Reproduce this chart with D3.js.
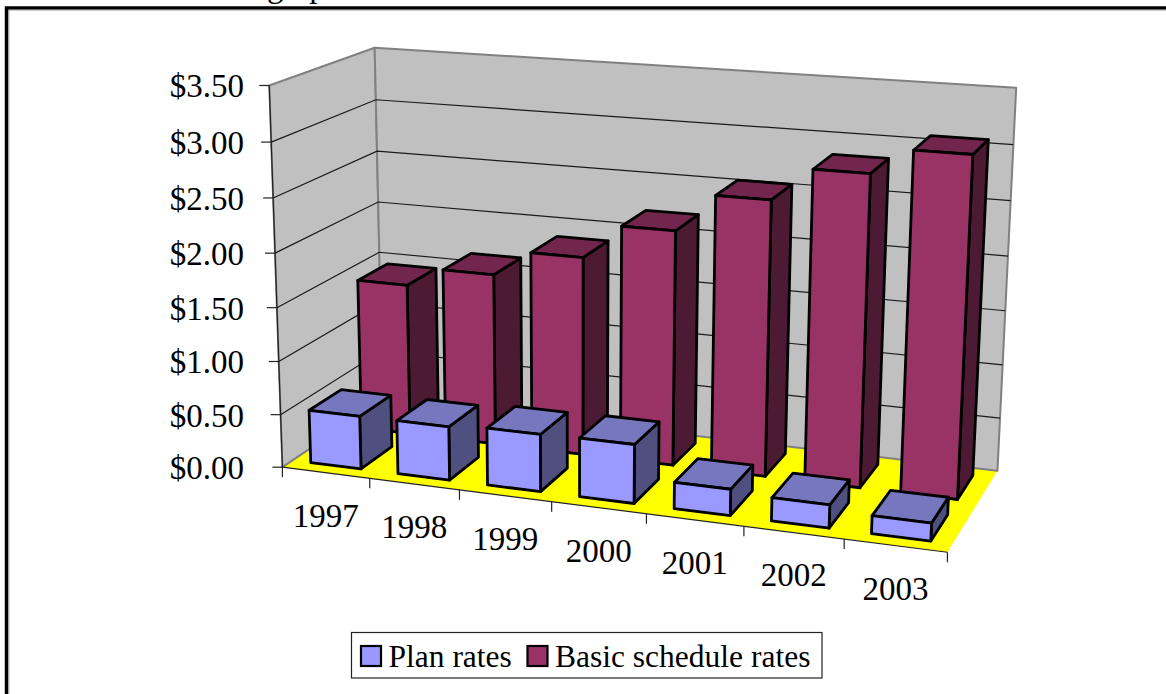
<!DOCTYPE html>
<html>
<head>
<meta charset="utf-8">
<script src="https://cdn.jsdelivr.net/npm/d3@7"></script>
<style>
    html, body { margin: 0; padding: 0; background: #fff; overflow: hidden; }
    text { font-family: "Liberation Serif", serif; fill: #000; }
</style>
</head>
<body>
<script>

var years = ["1997", "1998", "1999", "2000", "2001", "2002", "2003"];
var seriesNames = ["Plan rates", "Basic schedule rates"];
var planRates = [0.50, 0.50, 0.53, 0.54, 0.24, 0.21, 0.16];
var basicRates = [1.45, 1.63, 1.87, 2.19, 2.54, 2.84, 3.07];
var yTicks = [0, 0.5, 1, 1.5, 2, 2.5, 3, 3.5];

var width = 1166, height = 694;

var planColors = { front: "#9999ff", top: "#7777bf", side: "#4f4f80" };
var basicColors = { front: "#993366", top: "#73264d", side: "#4d1a33" };

// where the corners of the chart box land on screen: [x, height, depth, screenX, screenY]
var boxCorners = [
    [0, 0, 0, 284, 467],
    [1, 0, 0, 947, 553],
    [0, 0, 1, 381, 400],
    [1, 0, 1, 998, 470],
    [0, 1, 0, 268, 85],
    [0, 1, 1, 376, 48],
    [1, 1, 1, 1016, 88]
];

var project = buildProjection(boxCorners);

var xScale = d3.scaleBand().domain(years).range([0, 1]).paddingInner(0.42).paddingOuter(0.21);
var zScale = d3.scaleBand().domain(seriesNames).range([0, 1]).paddingInner(0.38).paddingOuter(0.19);
var yScale = d3.scaleLinear().domain([0, 3.5]).range([0, 1]);
var money = d3.format("$.2f");

var line = d3.line();

var svg = d3.select("body").append("svg")
    .attr("width", width)
    .attr("height", height)
    .style("display", "block");

// the cut off line of text above the frame
svg.append("text")
    .attr("x", 267)
    .attr("y", -3.5)
    .attr("font-size", 33)
    .text("graph");

// frame, open to the right and the bottom
svg.append("path")
    .attr("d", "M6.5,694V8H1166")
    .attr("fill", "none")
    .attr("stroke", "#000")
    .attr("stroke-width", 3.5);
svg.append("path")
    .attr("d", "M8.8,694V10H1166")
    .attr("fill", "none")
    .attr("stroke", "#999")
    .attr("stroke-width", 1);

function face(points, fill, stroke, strokeWidth) {
    return svg.append("path")
        .attr("d", line(points.map(function(p) { return project(p[0], p[1], p[2]); })) + "Z")
        .attr("fill", fill)
        .attr("stroke", stroke)
        .attr("stroke-width", strokeWidth)
        .attr("stroke-linejoin", "round");
}

// floor and walls
face([[0, 0, 0], [1, 0, 0], [1, 0, 1], [0, 0, 1]], "#ffff00", "none", 0);
face([[0, 0, 0], [0, 1, 0], [0, 1, 1], [0, 0, 1]], "#c0c0c0", "#808080", 2);
face([[0, 0, 1], [0, 1, 1], [1, 1, 1], [1, 0, 1]], "#c0c0c0", "#808080", 2);

// gridlines run along both walls
yTicks.slice(1, -1).forEach(function(t) {
    var v = yScale(t);
    svg.append("path")
        .attr("d", line([project(0, v, 0), project(0, v, 1), project(1, v, 1)]))
        .attr("fill", "none")
        .attr("stroke", "#1a1a1a")
        .attr("stroke-width", 1.2);
});

// value axis
svg.append("path")
    .attr("d", line([project(0, 1, 0), project(0, 0, 0)]))
    .attr("fill", "none")
    .attr("stroke", "#222")
    .attr("stroke-width", 1.2);

yTicks.forEach(function(t) {
    var p = project(0, yScale(t), 0);
    svg.append("path")
        .attr("d", line([p, [p[0] - 10, p[1]]]))
        .attr("stroke", "#222")
        .attr("stroke-width", 1.2);
    svg.append("text")
        .attr("x", 244)
        .attr("y", p[1] + 1)
        .attr("dy", "0.33em")
        .attr("text-anchor", "end")
        .attr("font-size", 33)
        .text(money(t));
});

// category axis
var frontEdge = [project(0, 0, 0), project(1, 0, 0)];
svg.append("path")
    .attr("d", line(frontEdge))
    .attr("stroke", "#222")
    .attr("stroke-width", 1.2);

d3.range(years.length + 1).forEach(function(i) {
    var p = project(i / years.length, 0, 0);
    svg.append("path")
        .attr("d", line([p, [p[0], p[1] + 10]]))
        .attr("stroke", "#222")
        .attr("stroke-width", 1.2);
});

years.forEach(function(year) {
    var p = project(xScale(year) + xScale.bandwidth() / 2, 0, 0);
    svg.append("text")
        .attr("x", p[0])
        .attr("y", p[1] + 43)
        .attr("dy", "0.33em")
        .attr("text-anchor", "middle")
        .attr("font-size", 33)
        .text(year);
});

// back row first so the front row covers it
drawRow(seriesNames[1], basicRates, basicColors);
drawRow(seriesNames[0], planRates, planColors);

function drawRow(name, values, colors) {
    values.forEach(function(value, i) {
        var u0 = xScale(years[i]),
            u1 = u0 + xScale.bandwidth(),
            w0 = zScale(name),
            w1 = w0 + zScale.bandwidth(),
            v = yScale(value);

        face([[u1, 0, w0], [u1, 0, w1], [u1, v, w1], [u1, v, w0]], colors.side, "#000", 2.8);
        face([[u0, v, w0], [u1, v, w0], [u1, v, w1], [u0, v, w1]], colors.top, "#000", 2.8);
        face([[u0, 0, w0], [u1, 0, w0], [u1, v, w0], [u0, v, w0]], colors.front, "#000", 2.8);
    });
}

// legend
svg.append("rect")
    .attr("x", 351.5)
    .attr("y", 632.5)
    .attr("width", 470.5)
    .attr("height", 45.5)
    .attr("fill", "#fff")
    .attr("stroke", "#222")
    .attr("stroke-width", 1.2);

var legendX = [361, 527.5];
var legendColors = [planColors.front, basicColors.front];

seriesNames.forEach(function(name, i) {
    svg.append("rect")
        .attr("x", legendX[i])
        .attr("y", 646)
        .attr("width", 20)
        .attr("height", 20)
        .attr("fill", legendColors[i])
        .attr("stroke", "#000")
        .attr("stroke-width", 2.2);
    svg.append("text")
        .attr("x", legendX[i] + 27.5)
        .attr("y", 666.5)
        .attr("font-size", 31.5)
        .text(name);
});

// fits the 11 numbers of a projective camera to the corners above
function buildProjection(corners) {
    var rows = [], rhs = [];

    corners.forEach(function(c) {
        var u = c[0], v = c[1], w = c[2], sx = c[3], sy = c[4];
        rows.push([u, v, w, 1, 0, 0, 0, 0, -sx * u, -sx * v, -sx * w]);
        rhs.push(sx);
        rows.push([0, 0, 0, 0, u, v, w, 1, -sy * u, -sy * v, -sy * w]);
        rhs.push(sy);
    });

    var m = solveLeastSquares(rows, rhs);

    return function(u, v, w) {
        var d = m[8] * u + m[9] * v + m[10] * w + 1;
        return [
            (m[0] * u + m[1] * v + m[2] * w + m[3]) / d,
            (m[4] * u + m[5] * v + m[6] * w + m[7]) / d
        ];
    };
}

function solveLeastSquares(rows, rhs) {
    var n = rows[0].length, a = [], i, j, k;

    for (i = 0; i < n; i++) {
        a.push([]);
        for (j = 0; j < n; j++) {
            a[i].push(d3.sum(rows, function(r) { return r[i] * r[j]; }));
        }
        a[i].push(d3.sum(rows, function(r, q) { return r[i] * rhs[q]; }));
    }

    for (i = 0; i < n; i++) {
        var pivot = i;
        for (k = i + 1; k < n; k++) {
            if (Math.abs(a[k][i]) > Math.abs(a[pivot][i])) pivot = k;
        }
        var tmp = a[i]; a[i] = a[pivot]; a[pivot] = tmp;
        for (k = i + 1; k < n; k++) {
            var f = a[k][i] / a[i][i];
            for (j = i; j <= n; j++) a[k][j] -= f * a[i][j];
        }
    }

    var x = [];
    for (i = n - 1; i >= 0; i--) {
        var s = a[i][n];
        for (j = i + 1; j < n; j++) s -= a[i][j] * x[j];
        x[i] = s / a[i][i];
    }
    return x;
}

</script>
</body>
</html>
